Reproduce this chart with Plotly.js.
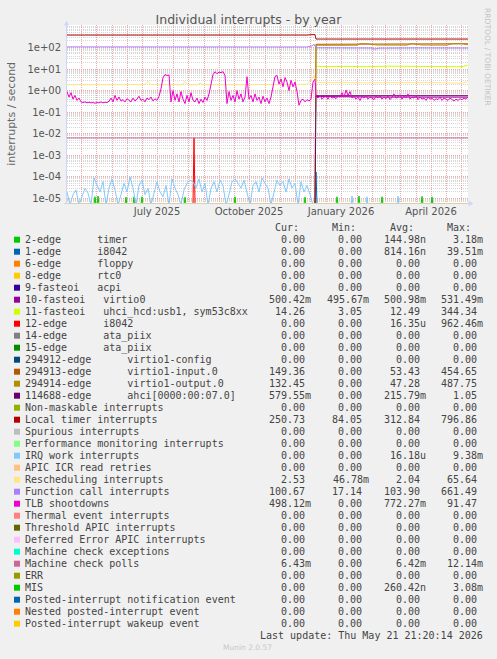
<!DOCTYPE html>
<html><head><meta charset="utf-8">
<script src="https://cdn.plot.ly/plotly-3.0.1.min.js"></script>
<style>html,body{margin:0;padding:0;background:#F0F0F0;}#chart{width:497px;height:659px;}</style>
</head><body><div id="chart"></div>
<script>
// ---------------- DATA (day offsets from 2025-04-17) ----------------
const timerSpikeDays = [28, 31, 59, 67, 75, 118, 168, 238];
const timerSpikeVals = [1.2e-5, 1.3e-5, 1.15e-5, 1.2e-5, 1.2e-5, 1.15e-5, 1.2e-5, 1.15e-5];

const i8042SpikeDays = [249];
const i8042SpikeVals = [1.7e-4];

const virtio0Days = [249, 280, 320, 360, 401];
const virtio0Vals = [0.53, 0.5, 0.5, 0.5, 0.5];

const uhciDays = [249, 260, 280, 300, 320, 340, 360, 380, 395, 401];
const uhciVals = [13.5, 13, 13.2, 12.8, 13.5, 13.2, 12.8, 12.5, 12.8, 15];

const edge12SpikeDays = [127];
const edge12SpikeVals = [6.4e-3];

const virtioInDays = [0, 248, 249, 280, 320, 360, 401];
const virtioInVals = [0, 0, 140, 142, 140, 145, 148];

const virtioOutDays = [0, 248, 249, 270, 290, 293, 300, 310, 340, 345, 355, 380, 385, 395, 401];
const virtioOutVals = [0, 0, 126, 126, 127, 150, 148, 130, 128, 150, 130, 128, 148, 150, 132];

const ahciDays = [0, 248, 249, 300, 350, 401];
const ahciVals = [0, 0, 0.58, 0.58, 0.58, 0.58];

const localTimerDays = [0, 70, 72, 88, 90, 162, 164, 173, 175, 240, 246, 248, 249, 300, 350, 401];
const localTimerVals = [375, 375, 355, 355, 375, 375, 350, 350, 375, 375, 392, 390, 245, 244, 246, 245];

const irqWorkBefore = [2e-5,0,1.5e-5,2.5e-5,0,1.2e-5,3e-5,1.8e-5, 0,9e-5,4e-5,2e-5,6e-5,0,3e-5,8e-5,
  2.5e-5,0,1.5e-5,5e-5,2e-5,1e-4,3e-5,0, 4e-5,7e-5,1.5e-5,3e-5,0,2e-5,6e-5,2e-5,
  1.2e-5,4e-5,0,8e-5,3e-5,1.5e-5,0,2.5e-5, 5e-5,7e-5,6e-5,3e-5,8e-5,2e-5,5e-5,0,
  3e-5,6e-5,2e-5,7e-5,4e-5,0,1.5e-5,6e-5, 8e-5,5e-5,3e-5,7e-5,2e-5,0,4e-5,6e-5,
  2e-5,9e-5,5e-5,3e-5,0,2e-5,7e-5,4e-5, 6e-5,2e-5,8e-5,3e-5,5e-5,0,6e-5,2e-5, 4e-5,1.5e-5,0];
const irqWorkStep = 3;
const irqWorkSpikeDays = [285, 300, 331, 365];
const irqWorkSpikeVals = [1.3e-5, 1.2e-5, 1.3e-5, 1.2e-5];

const reschedDays = [0, 30, 78, 81, 84, 115, 118, 121, 130, 133, 136, 200, 240, 245, 247, 249, 300, 360, 395, 401];
const reschedVals = [1.85, 1.85, 1.9, 2.7, 1.9, 1.85, 2.6, 1.85, 1.85, 2.2, 1.85, 1.9, 1.95, 3.5, 5, 2.4, 2.3, 2.4, 2.2, 2.6];

const funcCallDays = [0, 60, 120, 180, 240, 245, 247, 249, 280, 305, 308, 312, 350, 380, 401];
const funcCallVals = [106, 105, 106, 104, 105, 118, 140, 96, 95, 94, 83, 93, 95, 93, 94];

const tlbBefore = [0.9,0.5,0.8,0.4,0.6,0.35,0.45,
  0.3,0.28,0.3,0.27,0.29,0.27,0.28,0.26,0.28,0.27,0.3,0.27,0.29,0.28,0.32,
  0.45,0.3,0.6,0.35,0.5,
  0.33,0.38,0.3,0.42,0.35,0.3,0.45,0.33,0.4,0.55,0.35,0.4,0.3,0.45,0.38,0.5,0.33,0.42,0.35,0.55,
  1.2,4.0,5.5,5.0,5.3, 0.3,
  1.0,0.35,0.7,0.3,0.9,0.4,0.25,0.6,0.3,0.8,0.35,
  0.3,0.45,0.25,0.4,0.28,0.5,0.35,0.7,
  2.0,5.5,7.5,6.0,7.2,6.8,7.5,5.0, 0.25,
  0.9,0.35,0.6,0.3,1.0,0.4,0.7,0.3,0.5, 4.4,
  0.4,0.6,0.3,0.7,0.35,0.5,0.25,0.55,0.3,0.45,0.25,0.5,
  1.5,4.5,5.0,2.0,3.5,1.5,4.0,2.5,1.0,3.0,1.5,2.5,0.9, 0.21,
  0.35,0.4,0.3,0.38,0.33,0.4, 2.5,3.4];
const tlbAfter = [0.55,0.45,0.6,0.4,0.5,0.55,0.4,0.6,0.45,0.5,0.42,0.55,0.5,
  0.8,0.5,1.05,0.6,0.9,
  0.45,0.55,0.4,0.5,0.35,0.55,0.45,0.6,0.4,0.5,0.45,0.38,0.55,0.45,0.6,0.4,0.5,0.42,0.55,0.38,0.5,
  0.7,0.45,0.5,0.65,0.4,0.55,0.45,0.7,0.4,0.5,0.45,0.6,0.38,0.5,
  0.4,0.45,0.35,0.5,0.4,0.45,0.35,0.42,0.38,0.5,0.35,0.45,0.4,0.35,0.45,0.38,0.33,0.4,0.35,0.42,0.38,0.45,0.4,0.5];
const tlbStep = 2, tlbAfterStart = 249;

const mcPollDays = [0, 401];
const mcPollVals = [6.4e-3, 6.4e-3];

const misSpikeDays = [270, 292, 315, 355, 365];
const misSpikeVals = [1.2e-5, 1.3e-5, 1.2e-5, 1.25e-5, 1.15e-5];

// legend
const legendNames = ["2-edge      timer","1-edge      i8042","6-edge      floppy","8-edge      rtc0","9-fasteoi   acpi",
 "10-fasteoi   virtio0","11-fasteoi   uhci_hcd:usb1, sym53c8xx","12-edge      i8042","14-edge      ata_piix","15-edge      ata_piix",
 "294912-edge      virtio1-config","294913-edge      virtio1-input.0","294914-edge      virtio1-output.0","114688-edge      ahci[0000:00:07.0]",
 "Non-maskable interrupts","Local timer interrupts","Spurious interrupts","Performance monitoring interrupts","IRQ work interrupts",
 "APIC ICR read retries","Rescheduling interrupts","Function call interrupts","TLB shootdowns","Thermal event interrupts",
 "Threshold APIC interrupts","Deferred Error APIC interrupts","Machine check exceptions","Machine check polls","ERR","MIS",
 "Posted-interrupt notification event","Nested posted-interrupt event","Posted-interrupt wakeup event"];
const legendColors = ["#00CC00","#0066B3","#FF8000","#FFCC00","#330099","#990099","#CCFF00","#FF0000","#808080","#008F00",
 "#00487D","#B35A00","#B38F00","#6B006B","#8FB300","#B30000","#BEBEBE","#80FF80","#80C9FF","#FFC080","#FFE680","#AA80FF",
 "#EE00CC","#FF8080","#666600","#FFBFFF","#00FFCC","#CC6699","#999900","#00CC00","#0066B3","#FF8000","#FFCC00"];
const Z = "0.00";
const curVals = [Z,Z,Z,Z,Z,"500.42m","14.26",Z,Z,Z,Z,"149.36","132.45","579.55m",Z,"250.73",Z,Z,Z,Z,"2.53","100.67","498.12m",Z,Z,Z,Z,"6.43m",Z,Z,Z,Z,Z];
const minVals = [Z,Z,Z,Z,Z,"495.67m","3.05",Z,Z,Z,Z,Z,Z,Z,Z,"84.05",Z,Z,Z,Z,"46.78m","17.14",Z,Z,Z,Z,Z,Z,Z,Z,Z,Z,Z];
const avgVals = ["144.98n","814.16n",Z,Z,Z,"500.98m","12.49","16.35u",Z,Z,Z,"53.43","47.28","215.79m",Z,"312.84",Z,Z,"16.18u",Z,"2.04","103.90","772.27m",Z,Z,Z,Z,"6.42m",Z,"260.42n",Z,Z,Z];
const maxVals = ["3.18m","39.51m",Z,Z,Z,"531.49m","344.34","962.46m",Z,Z,Z,"454.65","487.75","1.05",Z,"796.86",Z,Z,"9.38m",Z,"65.64","661.49","91.47",Z,Z,Z,Z,"12.14m",Z,"3.08m",Z,Z,Z];
const colHeaders = ["Cur:","Min:","Avg:","Max:"];

const yTickVals = [1e-5,1e-4,1e-3,1e-2,1e-1,1,10,100];
const yTickText = ["1e-05","1e-04","1e-03","1e-02","1e-01","1e+00","1e+01","1e+02"];
const xLabels = {"2025-07-16":"July 2025","2025-10-16":"October 2025","2026-01-16":"January 2026","2026-04-16":"April 2026"};

// ---------------- helpers ----------------
const ZERO_DRAW = 5e-6; // zero drawn just under the log floor (like rrdtool clamping)
const BASE = Date.UTC(2025,3,17);
function dayToDate(d){ if(d===null) return null; return new Date(BASE + d*86400000).toISOString().slice(0,19).replace('T',' '); }
function mk(days, vals, color){
  return {type:'scatter', mode:'lines', x: days.map(dayToDate),
    y: vals.map(v => v===null ? null : (v===0 ? ZERO_DRAW : v)),
    line:{color:color, width:1}, hoverinfo:'skip', connectgaps:false};
}
function spikeSeries(days, vals){
  const xs=[], ys=[];
  days.forEach((d,i)=>{ xs.push(d-1,d,d+1,null); ys.push(0,vals[i],0,null); });
  return [xs, ys];
}
function mkSpikes(days, vals, color){ const s = spikeSeries(days, vals); return mk(s[0], s[1], color); }

const irqDays = irqWorkBefore.map((_,i)=>i*irqWorkStep);
const irqVals = irqWorkBefore.slice();
irqDays.push(249); irqVals.push(0);
irqWorkSpikeDays.forEach((d,i)=>{ irqDays.push(d-1,d,d+1); irqVals.push(0,irqWorkSpikeVals[i],0); });
irqDays.push(401); irqVals.push(0);

const tlbDays = tlbBefore.map((_,i)=>i*tlbStep).concat(tlbAfter.map((_,i)=>tlbAfterStart+i*tlbStep));
const tlbVals = tlbBefore.concat(tlbAfter);

const traces = [
  mkSpikes(timerSpikeDays, timerSpikeVals, legendColors[0]),
  mkSpikes(i8042SpikeDays, i8042SpikeVals, legendColors[1]),
  mk(virtio0Days, virtio0Vals, legendColors[5]),
  mk(uhciDays, uhciVals, legendColors[6]),
  mkSpikes(edge12SpikeDays, edge12SpikeVals, legendColors[7]),
  mk(virtioInDays, virtioInVals, legendColors[11]),
  mk(virtioOutDays, virtioOutVals, legendColors[12]),
  mk(ahciDays, ahciVals, legendColors[13]),
  mk(localTimerDays, localTimerVals, legendColors[15]),
  mk(irqDays, irqVals, legendColors[18]),
  mk(reschedDays, reschedVals, legendColors[20]),
  mk(funcCallDays, funcCallVals, legendColors[21]),
  mk(tlbDays, tlbVals, legendColors[22]),
  mk(mcPollDays, mcPollVals, legendColors[27]),
  mkSpikes(misSpikeDays, misSpikeVals, legendColors[29])
];

// ---------------- layout geometry ----------------
const W=497, H=659, PL=67, PR=468, PT=25, PB=203;
const px = x => (x-PL)/(PR-PL);
const py = y => (PB-y)/(PB-PT);

const gridDates = [];
{ let y=2025, m=4; while (y<2026 || (y===2026 && m<=5)) { const mm=String(m).padStart(2,'0'); gridDates.push(`${y}-${mm}-01`,`${y}-${mm}-16`); m++; if(m>12){m=1;y++;} } }
const gridText = gridDates.map(d => xLabels[d] || '');

const minorY = [];
for (let e=-6; e<=2; e++) for (let k=2; k<=9; k++) minorY.push(k*Math.pow(10,e));

const AXC = '#CFD6F8';
const shapes = [
  {type:'line', xref:'paper', yref:'paper', x0:px(66.5), x1:px(66.5), y0:py(203.5), y1:py(22), line:{color:AXC, width:1}, layer:'above'},
  {type:'path', xref:'paper', yref:'paper', path:`M ${px(64)} ${py(25.5)} L ${px(66.5)} ${py(20.5)} L ${px(69)} ${py(25.5)} Z`, fillcolor:AXC, line:{width:0}, layer:'above'},
  {type:'line', xref:'paper', yref:'paper', x0:px(64), x1:px(470), y0:py(203.5), y1:py(203.5), line:{color:AXC, width:1}, layer:'above'},
  {type:'line', xref:'paper', yref:'paper', x0:px(67), x1:px(468), y0:py(203.5), y1:py(203.5), line:{color:'#DCCFA4', width:1}, layer:'above'},
  {type:'path', xref:'paper', yref:'paper', path:`M ${px(468.5)} ${py(200.5)} L ${px(473.5)} ${py(203.5)} L ${px(468.5)} ${py(206.5)} Z`, fillcolor:AXC, line:{width:0}, layer:'above'}
];

const MONO = 'DejaVu Sans Mono';
const TXT = '#444444';
const annotations = [];
function ann(text, x, y, xanchor, size, color, family, extra){
  annotations.push(Object.assign({text:text, xref:'paper', yref:'paper', x:px(x), y:py(y), xanchor:xanchor, yanchor:'middle',
    showarrow:false, borderpad:0, borderwidth:0, font:{family:family||MONO, size:size||10, color:color||TXT}}, extra||{}));
}
ann('interrupts / second', 10.8, 114, 'center', 11, '#666666', 'DejaVu Sans', {textangle:-90});
ann('RRDTOOL / TOBI OETIKER', 488, 57, 'center', 7.6, '#C4C4C4', 'DejaVu Sans', {textangle:90});

const CW = 6.02, ROW0 = 239.7, ROWH = 12, LBLX = 25;
const colRight = [311, 368.5, 425.7, 482.7];
colHeaders.forEach((h,c)=> ann(h, colRight[c]-2*CW, ROW0-12, 'right'));
const cols = [curVals, minVals, avgVals, maxVals];
legendNames.forEach((name,k)=>{
  const y = ROW0 + ROWH*k;
  shapes.push({type:'rect', xref:'paper', yref:'paper', x0:px(14), x1:px(20), y0:py(y+3), y1:py(y-3), fillcolor:legendColors[k], line:{width:0}});
  ann(name.replace(/ /g,'\u00a0'), LBLX, y, 'left');
  cols.forEach((arr,c)=>{
    const v = arr[k];
    const hasUnit = /[a-z]$/i.test(v);
    ann(v, hasUnit ? colRight[c] : colRight[c]-CW, y, 'right');
  });
});
ann('Last\u00a0update:\u00a0Thu\u00a0May\u00a021\u00a021:20:14\u00a02026', 482.7, 635.7, 'right');
ann('Munin 2.0.57', 247.7, 647.5, 'center', 7.5, '#C8C8C8', 'DejaVu Sans');

const layout = {
  width:W, height:H, paper_bgcolor:'#F0F0F0', plot_bgcolor:'#FFFFFF',
  margin:{l:PL, r:W-PR, t:PT, b:H-PB, pad:0},
  showlegend:false, hovermode:false,
  title:{text:'Individual interrupts - by year', font:{family:'DejaVu Sans', size:12.5, color:'#555555'},
    x:0.5, xanchor:'center', xref:'container', y:1-19.5/H, yanchor:'middle', yref:'container'},
  xaxis:{type:'date', range:['2025-04-17','2026-05-23'], tickmode:'array', tickvals:gridDates, ticktext:gridText,
    showgrid:true, gridcolor:'#F0A8A8', griddash:'1px,1px', gridwidth:1, ticks:'', showline:false, zeroline:false,
    tickfont:{family:'DejaVu Sans', size:10, color:'#555555'}, ticklabelstandoff:1, fixedrange:true, automargin:false},
  yaxis:{type:'log', range:[-5.21, 3.04], tickmode:'array', tickvals:yTickVals, ticktext:yTickText,
    showgrid:true, gridcolor:'#F0A8A8', griddash:'1px,1px', gridwidth:1, ticks:'', showline:false, zeroline:false,
    minor:{tickmode:'array', tickvals:minorY, showgrid:true, gridcolor:'#D6D6D6', griddash:'1px,1px', gridwidth:1, ticks:''},
    tickfont:{family:'DejaVu Sans', size:10, color:'#555555'}, ticklabelstandoff:5, fixedrange:true, automargin:false},
  shapes:shapes, annotations:annotations
};
Plotly.newPlot('chart', traces, layout, {staticPlot:true, displayModeBar:false});
</script></body></html>
